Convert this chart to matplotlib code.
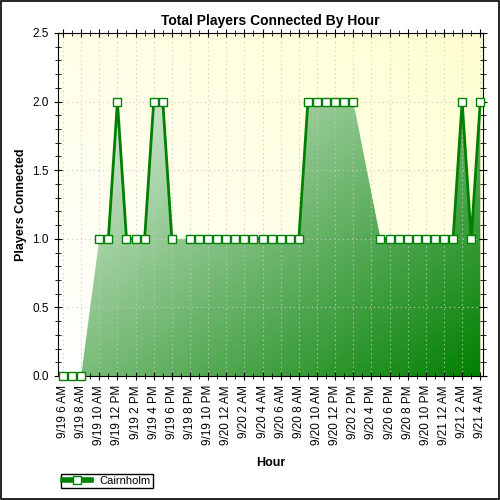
import numpy as np
import matplotlib
matplotlib.use("Agg")
import matplotlib.pyplot as plt
from matplotlib.patches import Polygon, Rectangle
from matplotlib.lines import Line2D

hours = list(range(0, 47))
values = [0, 0, 0, None, 1, 1, 2, 1, 1, 1, 2, 2, 1, None,
          1, 1, 1, 1, 1, 1, 1, 1, 1, 1, 1, 1, 1,
          2, 2, 2, 2, 2, 2, None, None,
          1, 1, 1, 1, 1, 1, 1, 1, 1, 2, 1, 2]
tick_labels = ["9/19 6 AM", "9/19 8 AM", "9/19 10 AM", "9/19 12 PM", "9/19 2 PM", "9/19 4 PM",
               "9/19 6 PM", "9/19 8 PM", "9/19 10 PM", "9/20 12 AM", "9/20 2 AM", "9/20 4 AM",
               "9/20 6 AM", "9/20 8 AM", "9/20 10 AM", "9/20 12 PM", "9/20 2 PM", "9/20 4 PM",
               "9/20 6 PM", "9/20 8 PM", "9/20 10 PM", "9/21 12 AM", "9/21 2 AM", "9/21 4 AM"]
series_name = "Cairnholm"

x = np.array(hours, dtype=float)
y = np.array([np.nan if v is None else v for v in values], dtype=float)
ok = ~np.isnan(y)
yfill = np.interp(x, x[ok], y[ok])

fig = plt.figure(figsize=(5, 5), dpi=100, facecolor="white")
fig.patches.append(Rectangle((0.002, 0.002), 0.996, 0.996, transform=fig.transFigure,
                             fill=False, edgecolor="black", lw=1.2))
ax = fig.add_axes([0.116, 0.248, 0.85, 0.686])
xmin, xmax = -0.55, 46.3
ax.set_xlim(xmin, xmax)
ax.set_ylim(0, 2.5)

# background gradient: white bottom-left to light yellow top-right
gx, gy = np.meshgrid(np.linspace(0, 1, 200), np.linspace(0, 1, 200))
t = np.clip((gx + gy) / 2, 0, 1)
bg = np.zeros((200, 200, 3))
bg[..., 0] = 1.0
bg[..., 1] = 1.0
bg[..., 2] = 1.0 - 0.18 * t
ax.imshow(bg, extent=[xmin, xmax, 0, 2.5], origin="lower", aspect="auto", zorder=0)

# gradient fill clipped to the area
tf = np.clip((gx + (1 - gy)) / 2, 0, 1)
c0 = np.array([1.0, 1.0, 1.0]); c1 = np.array([0.0, 0.5, 0.0])
fg = c0 + (c1 - c0) * tf[..., None]
im = ax.imshow(fg, extent=[xmin, xmax, 0, 2.5], origin="lower", aspect="auto", zorder=1)
verts = [(x[0], 0)] + list(zip(x, yfill)) + [(x[-1], 0)]
poly = Polygon(verts, closed=True, transform=ax.transData, facecolor="none", edgecolor="none")
ax.add_patch(poly)
im.set_clip_path(poly)

ax.grid(True, color="#c8c8c8", linestyle=(0, (1, 3)), lw=0.8, zorder=0.5)
ax.plot(x, y, color="#008000", lw=2, marker="s", ms=6, mfc="white", mec="#008000",
        mew=1, zorder=3, clip_on=False)

ax.set_xticks(hours[::2])
ax.set_xticklabels(tick_labels, rotation=90, fontsize=8.5, family="Liberation Sans")
ax.set_xticks(hours, minor=True)
ax.set_yticks(np.arange(0, 2.51, 0.5))
ax.set_yticklabels([f"{v:.1f}" for v in np.arange(0, 2.51, 0.5)], fontsize=8.5, family="Liberation Sans")
ax.set_yticks(np.arange(0, 2.51, 0.1), minor=True)
ax.tick_params(which="both", direction="inout", top=True, right=True)
ax.tick_params(which="major", length=6)
ax.tick_params(which="minor", length=4)
ax.set_title("Total Players Connected By Hour", fontsize=10, fontweight="bold", family="Liberation Sans")
ax.set_xlabel("Hour", fontsize=9, fontweight="bold", family="Liberation Sans", labelpad=8)
ax.set_ylabel("Players Connected", fontsize=9, fontweight="bold", family="Liberation Sans")

h = Line2D([], [], color="#008000", lw=4, marker="s", ms=6, mfc="white", mec="#008000")
fig.legend([h], [series_name], loc="lower left", bbox_to_anchor=(0.11, 0.012), fancybox=False,
           edgecolor="black", framealpha=1, prop={"family": "Liberation Sans", "size": 8},
           borderpad=0.2, handlelength=2.5)
fig.savefig("out.png", dpi=100, facecolor="white")
